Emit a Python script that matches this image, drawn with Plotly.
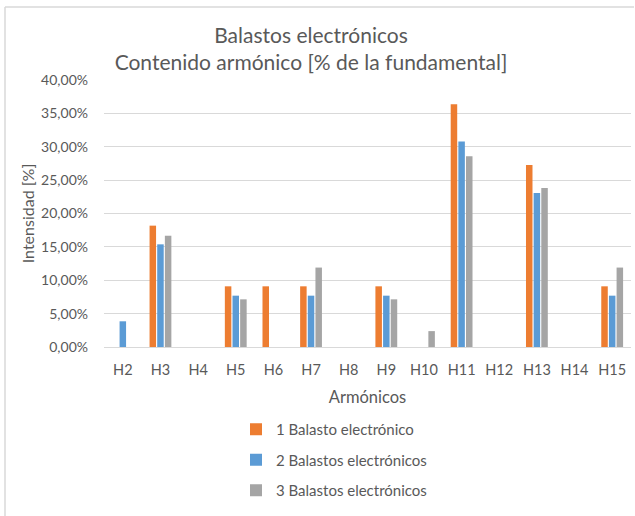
import plotly.graph_objects as go

categories = ["H2", "H3", "H4", "H5", "H6", "H7", "H8", "H9", "H10", "H11", "H12", "H13", "H14", "H15"]
series_names = ["1 Balasto electrónico", "2 Balastos electrónicos", "3 Balastos electrónicos"]
s1 = [0, 0.1818, 0, 0.0909, 0.0909, 0.0909, 0, 0.0909, 0, 0.3636, 0, 0.2727, 0, 0.0909]
s2 = [0.0385, 0.1538, 0, 0.0769, 0, 0.0769, 0, 0.0769, 0, 0.3077, 0, 0.2308, 0, 0.0769]
s3 = [0, 0.1667, 0, 0.0714, 0, 0.1190, 0, 0.0714, 0.0238, 0.2857, 0, 0.2381, 0, 0.1190]
colors = ["#ED7D31", "#5B9BD5", "#A5A5A5"]
yticks = [0, 0.05, 0.10, 0.15, 0.20, 0.25, 0.30, 0.35, 0.40]

FONT = "Lato"
TXT = "#595959"

fig = go.Figure()
for i, (name, vals) in enumerate(zip(series_names, [s1, s2, s3])):
    fig.add_trace(go.Bar(x=categories, y=vals, name=name, marker_color=colors[i],
                         marker_line_width=0, legendgroup=str(i)))

# plot area pixels: x 104..631, y 80..347
L, R, T, B = 104, 631, 80, 347
W, H = R - L, B - T
def px(x): return (x - L) / W
def py(y): return (B - y) / H

fig.update_layout(
    width=635, height=516,
    margin=dict(l=L, r=635 - R, t=T, b=516 - B),
    paper_bgcolor="white", plot_bgcolor="white",
    separators=",.",
    font=dict(family=FONT, color=TXT, size=15),
    title=dict(text="Balastos electrónicos<br>Contenido armónico [% de la fundamental]",
               x=311 / 635, xref="container", xanchor="center", y=1 - 43 / 516, yanchor="middle",
               font=dict(family=FONT, size=21, color=TXT)),
    bargap=0.39, bargroupgap=0.15, barmode="group",
    xaxis=dict(showgrid=False, showline=False, ticks="", zeroline=False,
               tickfont=dict(size=14.5, color=TXT), ticklabelstandoff=12,
               title=dict(text="Armónicos", font=dict(size=16.5, color=TXT), standoff=14)),
    yaxis=dict(range=[0, 0.40], tickvals=yticks, tickformat=".2%",
               showgrid=True, gridcolor="#D9D9D9", gridwidth=1, zeroline=True,
               zerolinecolor="#D9D9D9", zerolinewidth=1, showline=False, ticks="",
               tickfont=dict(size=14, color=TXT), ticklabelstandoff=15,
               title=dict(text="Intensidad [%]", font=dict(size=16, color=TXT), standoff=2)),
    legend=dict(orientation="v", x=px(236), y=py(413), xanchor="left", yanchor="top",
                font=dict(size=15, color=TXT), tracegroupgap=8, bgcolor="rgba(0,0,0,0)"),
    showlegend=True,
)

# chart border (light gray)
fig.add_shape(type="line", xref="paper", yref="paper", x0=px(5), x1=px(634), y0=py(7), y1=py(7),
              line=dict(color="#D9D9D9", width=1.5))
fig.add_shape(type="line", xref="paper", yref="paper", x0=px(5), x1=px(5), y0=py(7), y1=py(516),
              line=dict(color="#D9D9D9", width=1.5))

fig.write_html("out.html")
